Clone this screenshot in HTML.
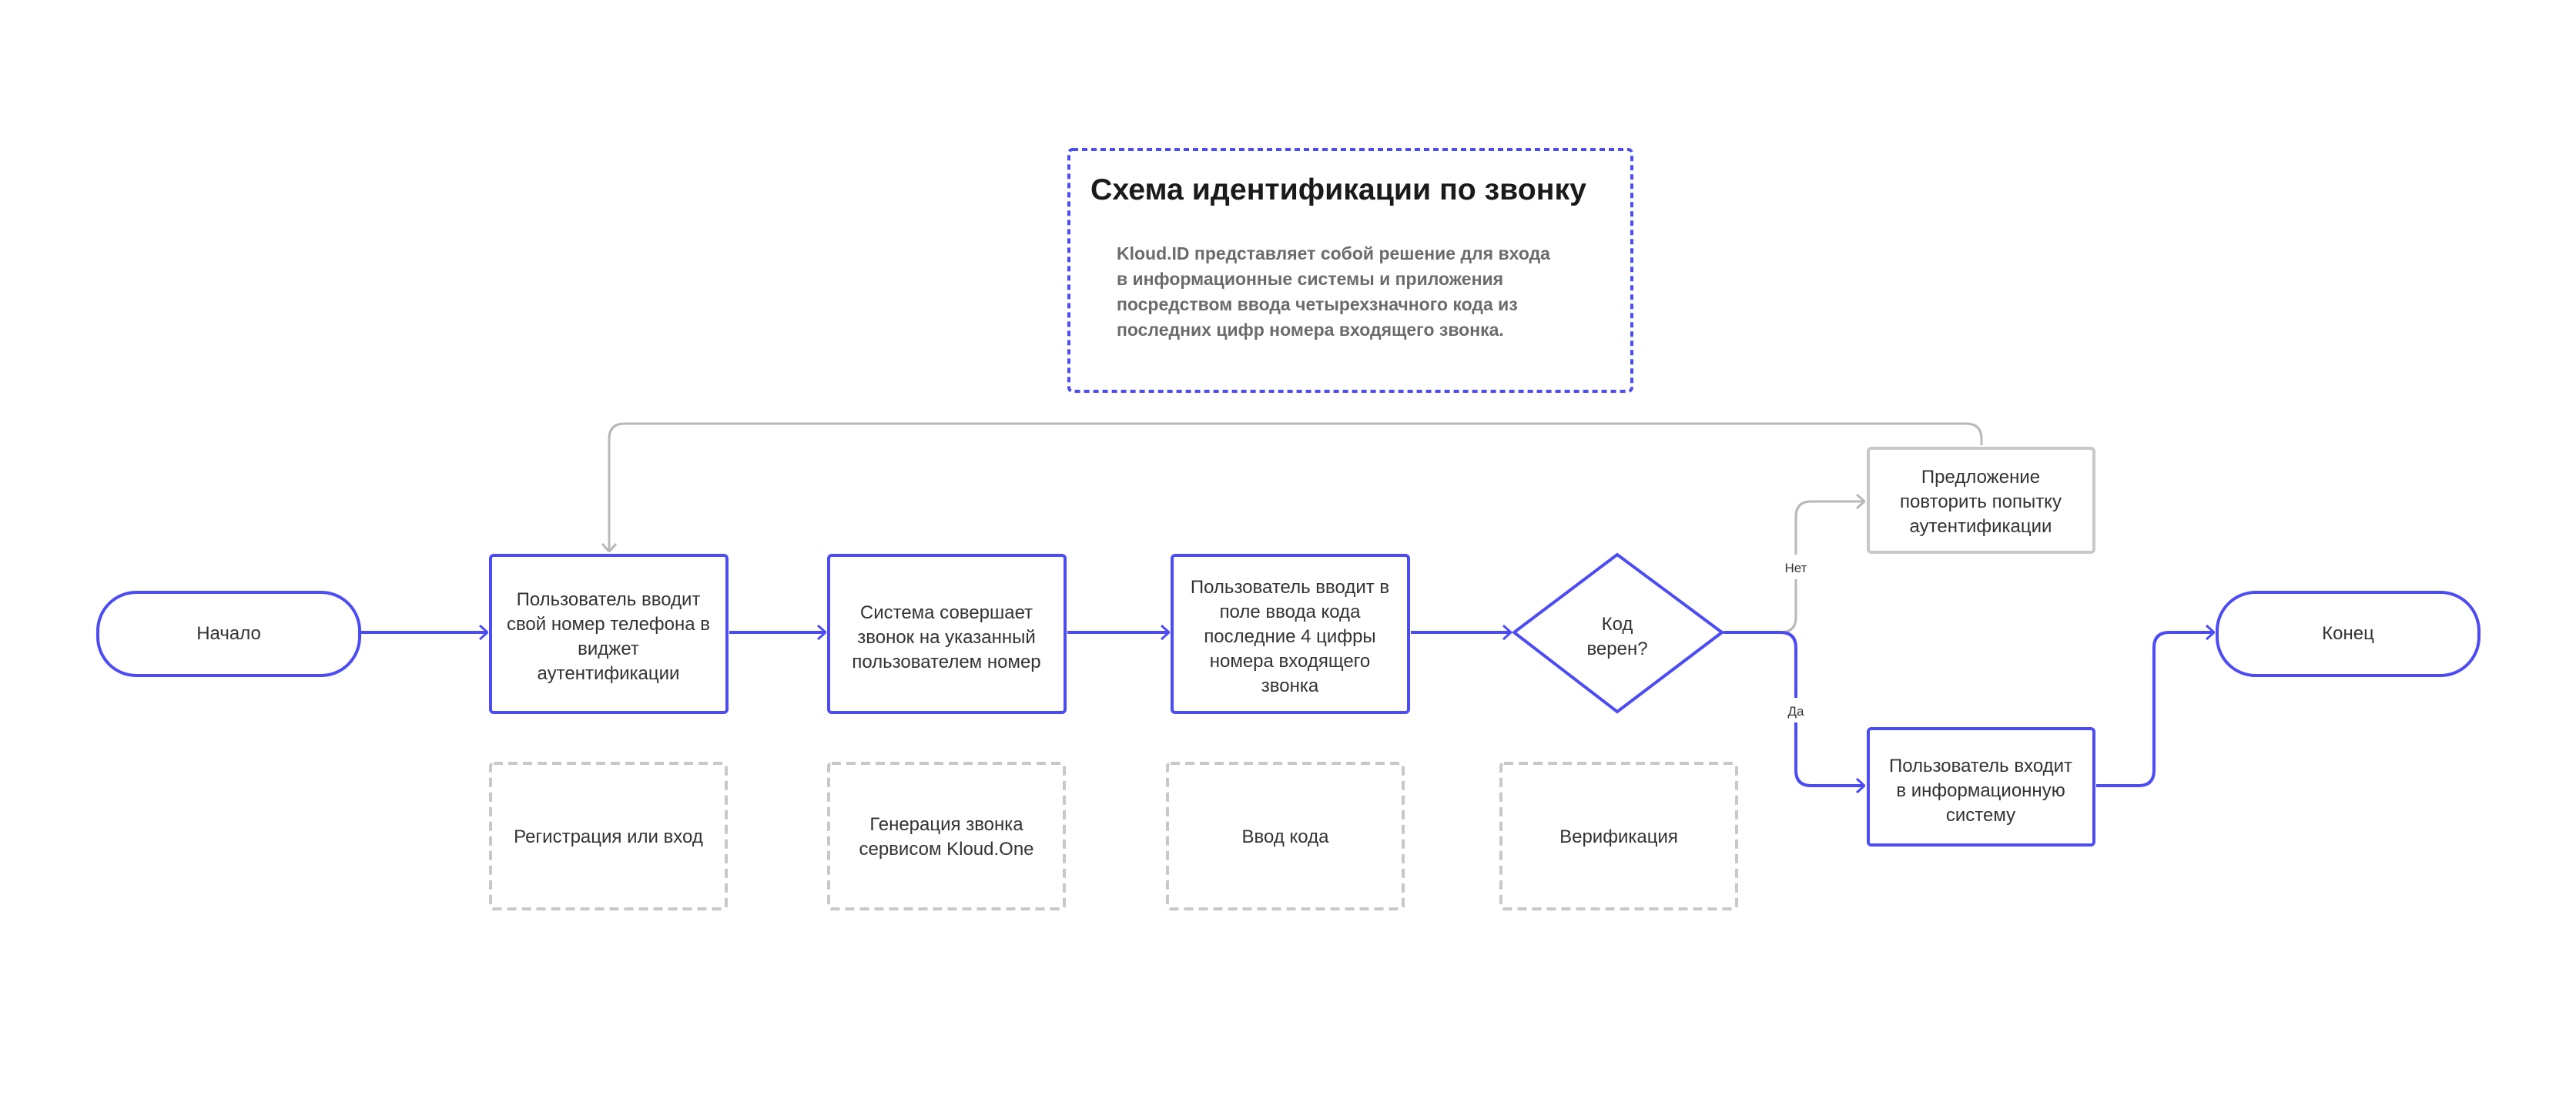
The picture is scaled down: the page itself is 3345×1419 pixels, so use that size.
<!DOCTYPE html>
<html><head><meta charset="utf-8"><style>
html,body{margin:0;padding:0;background:#fff;}
svg{display:block;}
text{font-family:"Liberation Sans","Noto Sans CJK SC",sans-serif;}
</style></head><body>
<svg width="3345" height="1419" viewBox="0 0 3345 1419" xmlns="http://www.w3.org/2000/svg">
<defs>
<marker id="ab" viewBox="0 0 12 20" refX="11" refY="10" markerWidth="12" markerHeight="20" markerUnits="userSpaceOnUse" orient="auto"><path d="M1 1 L11 10 L1 19" fill="none" stroke="#4b4bf7" stroke-width="3"/></marker>
<marker id="ag" viewBox="0 0 12 20" refX="11" refY="10" markerWidth="12" markerHeight="20" markerUnits="userSpaceOnUse" orient="auto"><path d="M1 1 L11 10 L1 19" fill="none" stroke="#b8b8b8" stroke-width="3"/></marker>
</defs>
<rect width="3345" height="1419" fill="#fff"/>
<rect x="1388" y="194" width="731" height="314" rx="5" fill="none" stroke="#4b4bf7" stroke-width="4" stroke-dasharray="7 5"/>
<text x="1416" y="259" font-size="39" font-weight="bold" fill="#1a1a1a" textLength="644" lengthAdjust="spacingAndGlyphs">Схема идентификации по звонку</text>
<g font-size="23" font-weight="bold" fill="#6b6b6b">
<text x="1450" y="337">Kloud.ID представляет собой решение для входа</text>
<text x="1450" y="370">в информационные системы и приложения</text>
<text x="1450" y="403">посредством ввода четырехзначного кода из</text>
<text x="1450" y="436">последних цифр номера входящего звонка.</text>
</g>
<g fill="none" stroke-width="4">
<path d="M2573 578 L2573 570 Q2573 550 2553 550 L811 550 Q791 550 791 570 L791 716" stroke="#b8b8b8" stroke-width="3" marker-end="url(#ag)"/>
<path d="M2238 821 L2312 821 Q2332 821 2332 801 L2332 671 Q2332 651 2352 651 L2421 651" stroke="#b8b8b8" stroke-width="3" marker-end="url(#ag)"/>
<path d="M469 821 L633 821" stroke="#4b4bf7" marker-end="url(#ab)"/>
<path d="M947 821 L1072 821" stroke="#4b4bf7" marker-end="url(#ab)"/>
<path d="M1386 821 L1518 821" stroke="#4b4bf7" marker-end="url(#ab)"/>
<path d="M1832 821 L1962 821" stroke="#4b4bf7" marker-end="url(#ab)"/>
<path d="M2238 821 L2312 821 Q2332 821 2332 841 L2332 1000 Q2332 1020 2352 1020 L2421 1020" stroke="#4b4bf7" marker-end="url(#ab)"/>
<path d="M2722 1020 L2777 1020 Q2797 1020 2797 1000 L2797 841 Q2797 821 2817 821 L2875 821" stroke="#4b4bf7" marker-end="url(#ab)"/>
</g>
<rect x="2300" y="720" width="64" height="32" fill="#fff"/>
<rect x="2300" y="906" width="64" height="32" fill="#fff"/>
<text x="2332" y="743" font-size="17" fill="#333" text-anchor="middle">Нет</text>
<text x="2332" y="929" font-size="17" fill="#333" text-anchor="middle">Да</text>
<g fill="#fff" stroke="#4b4bf7" stroke-width="4">
<rect x="127" y="769" width="340" height="108" rx="50"/>
<rect x="2879" y="769" width="340" height="108" rx="50"/>
<rect x="637" y="721" width="307" height="204" rx="4"/>
<rect x="1076" y="721" width="307" height="204" rx="4"/>
<rect x="1522" y="721" width="307" height="204" rx="4"/>
<rect x="2426" y="946" width="293" height="151" rx="4"/>
<path d="M2100 720 L2236 821 L2100 924 L1966 821 Z"/>
</g>
<rect x="2426" y="582" width="293" height="135" rx="4" fill="#fff" stroke="#c8c8c8" stroke-width="4"/>
<g fill="none" stroke="#c8c8c8" stroke-width="4" stroke-dasharray="12 7">
<rect x="637" y="991" width="306" height="189" rx="4"/>
<rect x="1076" y="991" width="306" height="189" rx="4"/>
<rect x="1516" y="991" width="306" height="189" rx="4"/>
<rect x="1949" y="991" width="306" height="189" rx="4"/>
</g>
<g font-size="24" fill="#333" text-anchor="middle">
<text x="297" y="830">Начало</text>
<text x="3049" y="830">Конец</text>
<text x="790" y="786">Пользователь вводит</text>
<text x="790" y="818">свой номер телефона в</text>
<text x="790" y="850">виджет</text>
<text x="790" y="882">аутентификации</text>
<text x="1229" y="803">Система совершает</text>
<text x="1229" y="835">звонок на указанный</text>
<text x="1229" y="867">пользователем номер</text>
<text x="1675" y="770">Пользователь вводит в</text>
<text x="1675" y="802">поле ввода кода</text>
<text x="1675" y="834">последние 4 цифры</text>
<text x="1675" y="866">номера входящего</text>
<text x="1675" y="898">звонка</text>
<text x="2100" y="818">Код</text>
<text x="2100" y="850">верен?</text>
<text x="2572" y="627">Предложение</text>
<text x="2572" y="659">повторить попытку</text>
<text x="2572" y="691">аутентификации</text>
<text x="2572" y="1002">Пользователь входит</text>
<text x="2572" y="1034">в информационную</text>
<text x="2572" y="1066">систему</text>
<text x="790" y="1094">Регистрация или вход</text>
<text x="1229" y="1078">Генерация звонка</text>
<text x="1229" y="1110">сервисом Kloud.One</text>
<text x="1669" y="1094">Ввод кода</text>
<text x="2102" y="1094">Верификация</text>
</g>
</svg>
</body></html>
